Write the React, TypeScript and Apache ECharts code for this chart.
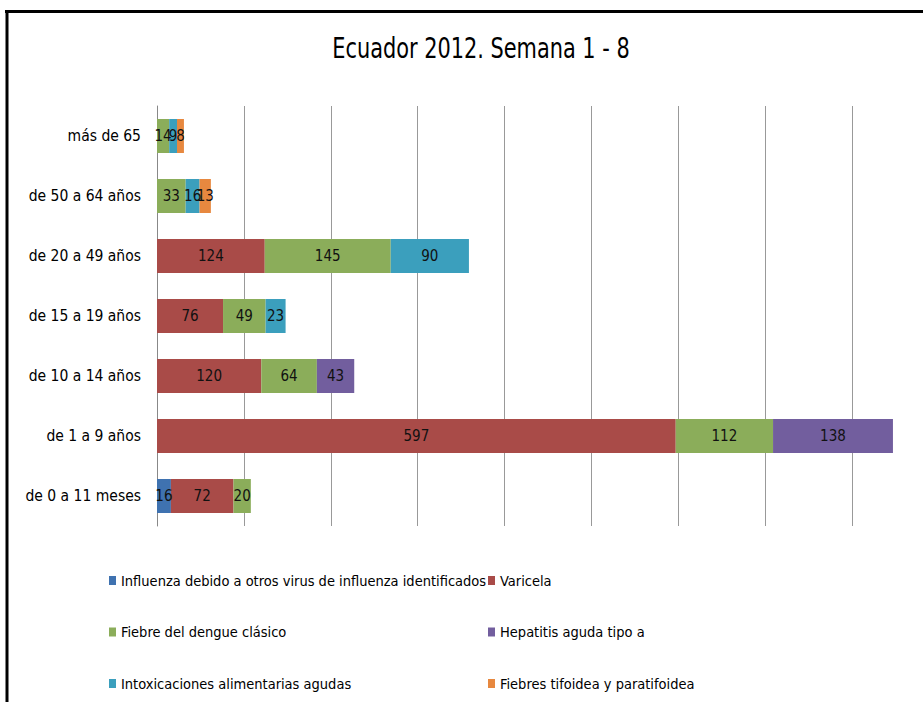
import React, { useEffect, useRef } from "react";
import * as echarts from "echarts";

const categories = [
  "de 0 a 11 meses",
  "de 1 a 9 años",
  "de 10 a 14 años",
  "de 15 a 19 años",
  "de 20 a 49 años",
  "de 50 a 64 años",
  "más de 65",
];

const seriesNames = [
  "Influenza debido a otros virus de influenza identificados",
  "Varicela",
  "Fiebre del dengue clásico",
  "Hepatitis aguda tipo a",
  "Intoxicaciones alimentarias agudas",
  "Fiebres tifoidea y paratifoidea",
];

const influenza = [16, 0, 0, 0, 0, 0, 0];
const varicela = [72, 597, 120, 76, 124, 0, 0];
const dengue = [20, 112, 64, 49, 145, 33, 14];
const hepatitis = [0, 138, 43, 0, 0, 0, 0];
const intoxicaciones = [0, 0, 0, 23, 90, 16, 9];
const tifoidea = [0, 0, 0, 0, 0, 13, 8];

const titleText = "Ecuador 2012. Semana 1 - 8";

const colors = ["#3F72B0", "#A94B48", "#8BAD5A", "#725E9E", "#3B9FBD", "#E7883F"];

const FONT = "'DejaVu Sans Condensed', 'Liberation Sans Narrow', sans-serif";

export default function App() {
  const ref = useRef<HTMLDivElement>(null);
  useEffect(() => {
    if (!ref.current) return;
    const chart = echarts.init(ref.current, undefined, { renderer: "svg" });
    const values = [influenza, varicela, dengue, hepatitis, intoxicaciones, tifoidea];
    const series = values.map((v, i) => ({
      name: seriesNames[i],
      type: "bar" as const,
      stack: "total",
      data: v,
      barWidth: 34,
      itemStyle: { color: colors[i] },
      label: {
        show: true,
        position: "inside" as const,
        color: "#111",
        fontFamily: FONT,
        fontSize: 15,
        formatter: (p: any) => (p.value ? String(p.value) : ""),
      },
    }));
    const legendText = { fontFamily: FONT, fontSize: 14.5, color: "#000", lineHeight: 17 };
    chart.setOption({
      animation: false,
      backgroundColor: "#fff",
      grid: { left: 157, top: 106, height: 420, width: 782, outerBoundsMode: "none", containLabel: false },
      xAxis: {
        type: "value",
        min: 0,
        max: 900,
        interval: 100,
        axisLabel: { show: false },
        axisTick: { show: false },
        axisLine: { show: false },
        splitLine: { show: true, lineStyle: { color: "#999", width: 1 } },
      },
      yAxis: {
        type: "category",
        data: categories,
        axisTick: { show: false },
        axisLine: { show: true, lineStyle: { color: "#888", width: 1 } },
        axisLabel: { fontFamily: FONT, fontSize: 15.5, color: "#000", margin: 16 },
      },
      legend: [
        {
          left: 104,
          top: 567,
          orient: "vertical",
          icon: "rect",
          itemWidth: 7,
          itemHeight: 9,
          itemGap: 34.5,
          data: [seriesNames[0], seriesNames[2], seriesNames[4]],
          textStyle: legendText,
        },
        {
          left: 483,
          top: 567,
          orient: "vertical",
          icon: "rect",
          itemWidth: 7,
          itemHeight: 9,
          itemGap: 34.5,
          data: [seriesNames[1], seriesNames[3], seriesNames[5]],
          textStyle: legendText,
        },
      ],
      graphic: [
        {
          type: "text",
          x: 481,
          y: 48,
          scaleX: 0.8,
          style: {
            text: titleText,
            fontFamily: FONT,
            fontSize: 29,
            fill: "#000",
            textAlign: "center",
            textVerticalAlign: "middle",
          },
        },
        { type: "line", shape: { x1: 5, y1: 11.5, x2: 923, y2: 11.5 }, style: { stroke: "#000", lineWidth: 3 } },
        { type: "line", shape: { x1: 7, y1: 10, x2: 7, y2: 702 }, style: { stroke: "#000", lineWidth: 3 } },
      ],
      series,
    });
    return () => chart.dispose();
  }, []);
  return (
    <div
      ref={ref}
      style={{ position: "fixed", left: 0, top: 0, width: 923, height: 702 }}
    />
  );
}
